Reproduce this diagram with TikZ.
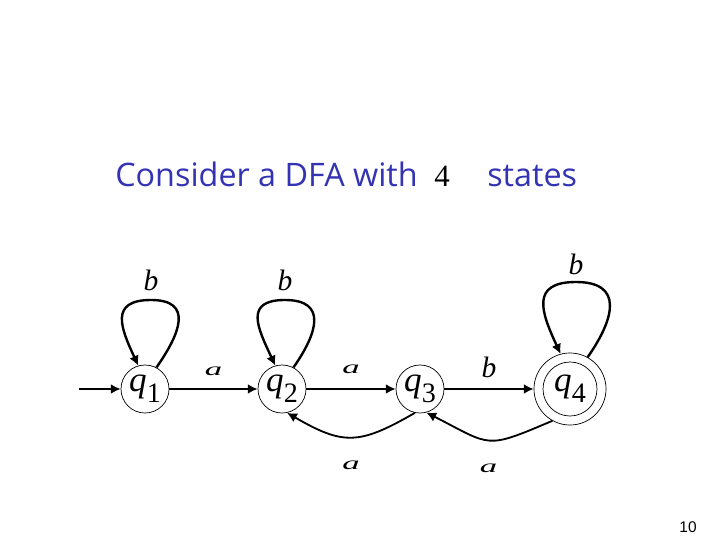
\documentclass[tikz,border=0pt]{standalone}
\usepackage{fontspec}
\usetikzlibrary{arrows.meta,positioning}
\setmainfont{Liberation Serif}
\newfontfamily\titlefont{Open Sans}
\newfontfamily\pagefont{Liberation Sans}
\definecolor{titleblue}{RGB}{51,51,179}
\newcommand{\qlbl}[1]{{\fontsize{25}{25}\selectfont\itshape q}{\fontsize{20}{20}\selectfont\raisebox{-8pt}{#1}}}
\newcommand{\wida}{{\fontsize{13}{13}\selectfont\scalebox{1.9}[1]{a}}}
\tikzset{
  dfastate/.style={circle, draw=black, line width=0.5pt, minimum size=1.2cm, inner sep=0pt},
  finalring/.style={circle, draw=black, line width=0.5pt, minimum size=1.8cm, inner sep=0pt},
  edgeline/.style={line width=1.3pt, draw=black, -{Latex[length=7pt,width=7pt]}},
  loopline/.style={line width=1.7pt, draw=black, line join=round, -{Latex[length=7pt,width=7pt]}},
  edgelbl/.style={inner sep=0pt, font=\fontsize{21}{21}\selectfont\itshape},
  titletext/.style={inner sep=0pt, text=titleblue, font=\titlefont\fontsize{23}{23}\selectfont},
  fournum/.style={inner sep=0pt, font=\fontsize{22}{22}\selectfont},
  pagenum/.style={inner sep=0pt, font=\pagefont\fontsize{11}{11}\selectfont},
}

\begin{document}
\begin{tikzpicture}[x=0.025cm, y=0.025cm]
\useasboundingbox (0,0) rectangle (720,540);
% heading
\node[titletext, anchor=base west] (ttl) at (115,353) {Consider a DFA with};
\node[fournum, anchor=base] (four) at (442,353) {4};
\node[titletext, anchor=base west] (sts) at (487,353) {states};
% states
\node[dfastate] (q1) at (145,151) {\qlbl{1}};
\node[dfastate] (q2) at (282,151) {\qlbl{2}};
\node[dfastate] (q3) at (420,151) {\qlbl{3}};
\node[finalring] (q4) at (570,151) {};
\node[dfastate, minimum size=1.35cm] (q4in) at (q4) {\qlbl{4}};
\coordinate (start) at (79,151);
\coordinate (top1) at (151,240);
\coordinate (top2) at (285,240);
\coordinate (top4) at (576,258);
% transitions
\draw[edgeline] (start) -- (q1);
\draw[edgeline] (q1) -- node[edgelbl, above=9pt] {\wida} (q2);
\draw[edgeline] (q2) -- node[edgelbl, above=10pt] {\wida} (q3);
\draw[edgeline] (q3) -- node[edgelbl, above=7pt] {b} (q4);
\draw[edgeline] (q3.-102) to[out=-150, in=-30, looseness=1.3] node[edgelbl, below=16pt] {\wida} (q2.-78);
\draw[edgeline] (q4.-119) to[out=-157, in=-27, looseness=1.5] node[edgelbl, below=16pt] {\wida} (q3.-75);
% self loops
\draw[loopline] (q1.62) to[out=55, in=0, looseness=1.6] (top1) to[out=180, in=115, looseness=1.6] (q1.106);
\draw[loopline] (q2.62) to[out=55, in=0, looseness=1.6] (top2) to[out=180, in=115, looseness=1.6] (q2.106);
\draw[loopline] (q4.61) to[out=55, in=0, looseness=1.6] (top4) to[out=180, in=115, looseness=1.6] (q4.105);
\node[edgelbl, above=6pt of top1] (b1) {b};
\node[edgelbl, above=6pt of top2] (b2) {b};
\node[edgelbl, above=5pt of top4] (b4) {b};
% page number
\node[pagenum] (pg) at (688,13) {10};
\end{tikzpicture}
\end{document}
